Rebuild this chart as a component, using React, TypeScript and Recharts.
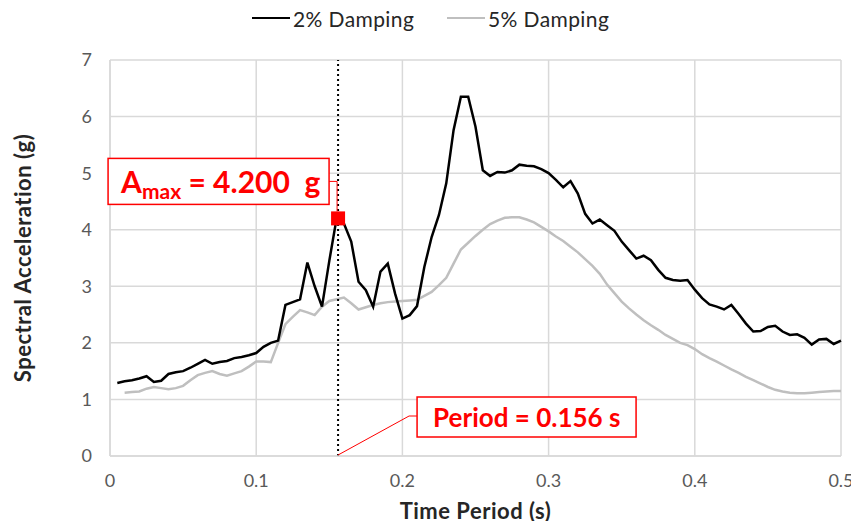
import {
  LineChart,
  Line,
  XAxis,
  YAxis,
  CartesianGrid,
  ReferenceLine,
  ReferenceDot,
} from "recharts";

const periods = [
  0.005, 0.01, 0.015, 0.02, 0.025, 0.03, 0.035, 0.04, 0.045, 0.05,
  0.055, 0.06, 0.065, 0.07, 0.075, 0.08, 0.085, 0.09, 0.095, 0.1,
  0.105, 0.11, 0.115, 0.12, 0.125, 0.13, 0.135, 0.14, 0.145, 0.15,
  0.155, 0.16, 0.165, 0.17, 0.175, 0.18, 0.185, 0.19, 0.195, 0.2,
  0.205, 0.21, 0.215, 0.22, 0.225, 0.23, 0.235, 0.24, 0.245, 0.25,
  0.255, 0.26, 0.265, 0.27, 0.275, 0.28, 0.285, 0.29, 0.295, 0.3,
  0.305, 0.31, 0.315, 0.32, 0.325, 0.33, 0.335, 0.34, 0.345, 0.35,
  0.355, 0.36, 0.365, 0.37, 0.375, 0.38, 0.385, 0.39, 0.395, 0.4,
  0.405, 0.41, 0.415, 0.42, 0.425, 0.43, 0.435, 0.44, 0.445, 0.45,
  0.455, 0.46, 0.465, 0.47, 0.475, 0.48, 0.485, 0.49, 0.495, 0.5,
];

// 2% damping spectrum (g)
const damping2 = [
  1.29, 1.32, 1.34, 1.37, 1.41, 1.31, 1.33, 1.45, 1.48, 1.5,
  1.56, 1.63, 1.7, 1.63, 1.66, 1.68, 1.73, 1.75, 1.78, 1.82,
  1.93, 2.0, 2.04, 2.67, 2.72, 2.77, 3.42, 3.0, 2.64, 3.45,
  4.2, 4.11, 3.79, 3.08, 2.93, 2.64, 3.26, 3.4, 2.87, 2.43,
  2.49, 2.65, 3.34, 3.87, 4.26, 4.82, 5.76, 6.35, 6.35, 5.82,
  5.05, 4.95, 5.02, 5.01, 5.05, 5.15, 5.13, 5.12, 5.07, 5.0,
  4.88, 4.75, 4.86, 4.64, 4.28, 4.11, 4.18, 4.08, 3.98, 3.79,
  3.64, 3.49, 3.54, 3.46, 3.29, 3.15, 3.11, 3.1, 3.11, 2.94,
  2.79, 2.68, 2.64, 2.59, 2.67, 2.51, 2.34, 2.2, 2.21, 2.28,
  2.3, 2.2, 2.14, 2.15, 2.09, 1.97, 2.06, 2.07, 1.98, 2.04,
];

// 5% damping spectrum (g)
const damping5 = [
  null, 1.12, 1.13, 1.14, 1.19, 1.22, 1.2, 1.18, 1.2, 1.24,
  1.34, 1.43, 1.47, 1.5, 1.45, 1.42, 1.46, 1.5, 1.58, 1.67,
  1.67, 1.66, 2.0, 2.33, 2.46, 2.58, 2.54, 2.49, 2.64, 2.74,
  2.77, 2.8, 2.7, 2.59, 2.63, 2.67, 2.7, 2.72, 2.73, 2.74,
  2.75, 2.76, 2.83, 2.9, 3.02, 3.15, 3.4, 3.65, 3.77, 3.89,
  4.0, 4.1, 4.16, 4.21, 4.22, 4.22, 4.18, 4.13, 4.05, 3.97,
  3.88, 3.8, 3.7, 3.6, 3.48, 3.36, 3.22, 3.03, 2.88, 2.73,
  2.61, 2.5, 2.4, 2.31, 2.23, 2.14, 2.07, 2.0, 1.96, 1.89,
  1.8, 1.73, 1.67, 1.6, 1.53, 1.47, 1.4, 1.34, 1.28, 1.22,
  1.17, 1.14, 1.12, 1.11, 1.11, 1.12, 1.13, 1.14, 1.15, 1.15,
];

const xTicks = [0, 0.1, 0.2, 0.3, 0.4, 0.5];
const yTicks = [0, 1, 2, 3, 4, 5, 6, 7];

const peakPeriod = 0.156;
const peakAccel = 4.2;

const data = periods.map((period, i) => ({
  period,
  d2: damping2[i],
  d5: damping5[i],
}));

const RED = "#ff0000";
const GRID = "#d9d9d9";
const tickStyle = { fill: "#595959", fontSize: 18, fontFamily: "Lato, sans-serif" };
const titleStyle = {
  fill: "#262626",
  fontSize: 22,
  fontWeight: 700,
  letterSpacing: 0.5,
  fontFamily: "Lato, sans-serif",
};

const AmaxLabel = (props: any) => {
  const { cx, cy } = props;
  if (cx == null || cy == null) return null;
  return (
    <g>
      <rect x={cx - 230} y={cy - 60} width={221} height={46} fill="#fff" stroke={RED} strokeWidth={1.5} />
      <polyline
        points={`${cx - 9},${cy - 37} ${cx - 1},${cy - 37} ${cx - 1},${cy - 7}`}
        fill="none"
        stroke={RED}
        strokeWidth={1}
      />
      <text
        x={cx - 217}
        y={cy - 25}
        fill={RED}
        fontWeight={700}
        fontSize={30}
        fontFamily="Lato, sans-serif"
        style={{ whiteSpace: "pre" }}
      >
        A
        <tspan fontSize={21} dy={6}>max</tspan>
        <tspan dy={-6}>{` = ${peakAccel.toFixed(3)}  g`}</tspan>
      </text>
      <rect x={cx - 7} y={cy - 7} width={14} height={14} fill={RED} />
    </g>
  );
};

const PeriodLabel = (props: any) => {
  const { cx, cy } = props;
  if (cx == null || cy == null) return null;
  return (
    <g>
      <polyline
        points={`${cx},${cy - 1} ${cx + 71},${cy - 40} ${cx + 79},${cy - 40}`}
        fill="none"
        stroke={RED}
        strokeWidth={1}
      />
      <rect x={cx + 79} y={cy - 59} width={219} height={40} fill="#fff" stroke={RED} strokeWidth={1.5} />
      <text x={cx + 95} y={cy - 29} fill={RED} fontWeight={700} fontSize={26} fontFamily="Lato, sans-serif">
        {`Period = ${peakPeriod} s`}
      </text>
    </g>
  );
};

const legendItems = [
  { label: "2% Damping", color: "#000000", left: 252 },
  { label: "5% Damping", color: "#bfbfbf", left: 447 },
];

export default function App() {
  return (
    <div style={{ position: "relative", width: 859, height: 529, margin: -8, background: "#fff" }}>
      {legendItems.map((item) => (
        <div
          key={item.label}
          style={{
            position: "absolute",
            top: 5,
            left: item.left,
            display: "flex",
            alignItems: "center",
            fontFamily: "Lato, sans-serif",
            fontSize: 21,
            letterSpacing: 0.4,
            color: "#262626",
            height: 26,
          }}
        >
          <span style={{ display: "inline-block", width: 38, height: 2.5, background: item.color, marginRight: 3 }} />
          {item.label}
        </div>
      ))}
      <LineChart width={859} height={529} data={data} margin={{ top: 60, right: 18, bottom: 13, left: 50 }}>
        <CartesianGrid stroke={GRID} strokeWidth={1.5} horizontalValues={yTicks} verticalValues={xTicks} />
        <XAxis
          dataKey="period"
          type="number"
          domain={[0, 0.5]}
          ticks={xTicks}
          tickLine={false}
          axisLine={{ stroke: GRID, strokeWidth: 1.5 }}
          tick={tickStyle}
          tickMargin={12}
          height={60}
          label={{ value: "Time Period (s)", position: "insideBottom", offset: -3, style: titleStyle }}
        />
        <YAxis
          type="number"
          domain={[0, 7]}
          ticks={yTicks}
          tickLine={false}
          axisLine={{ stroke: GRID, strokeWidth: 1.5 }}
          tick={tickStyle}
          tickMargin={12}
          width={60}
          label={{
            value: "Spectral Acceleration (g)",
            angle: -90,
            position: "insideLeft",
            offset: -27,
            style: { ...titleStyle, textAnchor: "middle" },
          }}
        />
        <Line
          type="linear"
          dataKey="d5"
          stroke="#bfbfbf"
          strokeWidth={2.5}
          dot={false}
          activeDot={false}
          isAnimationActive={false}
        />
        <Line
          type="linear"
          dataKey="d2"
          stroke="#000000"
          strokeWidth={2.5}
          dot={false}
          activeDot={false}
          isAnimationActive={false}
        />
        <ReferenceLine
          x={peakPeriod}
          stroke="#000"
          strokeWidth={2}
          strokeDasharray="2 3"
          segment={[
            { x: peakPeriod, y: 0 },
            { x: peakPeriod, y: 7 },
          ]}
        />
        <ReferenceDot x={peakPeriod} y={0} r={0} shape={PeriodLabel} />
        <ReferenceDot x={peakPeriod} y={peakAccel} r={7} shape={AmaxLabel} />
      </LineChart>
    </div>
  );
}
